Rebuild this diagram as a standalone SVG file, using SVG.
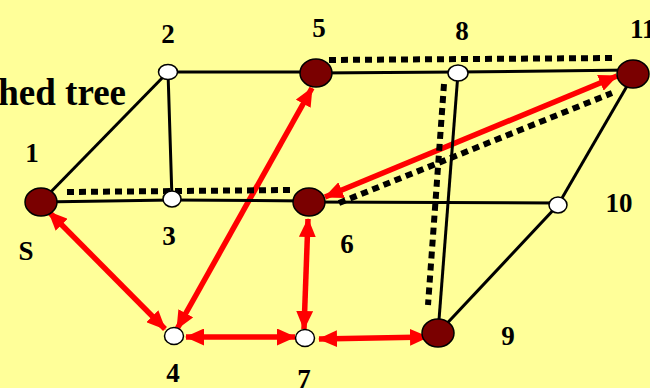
<svg xmlns="http://www.w3.org/2000/svg" width="650" height="388" viewBox="0 0 650 388">
<style>
.edge{stroke:#000;stroke-width:3;fill:none}
.dot{stroke:#000;stroke-width:6;stroke-dasharray:7 5;fill:none}
.arr{stroke:#FF0000;stroke-width:5.5;fill:none;marker-start:url(#ah);marker-end:url(#ah)}
.big{fill:#7A0000;stroke:#000;stroke-width:1.5}
.small{fill:#fff;stroke:#000;stroke-width:1.5}
text{font-family:"Liberation Serif","Times New Roman",serif;font-weight:bold;font-size:27px;fill:#000}
</style>
<defs>
<marker id="ah" markerUnits="userSpaceOnUse" markerWidth="19" markerHeight="17" viewBox="0 0 19 17" refX="18" refY="8.5" orient="auto-start-reverse">
<path d="M0,0 L19,8.5 L0,17 z" fill="#FF0000"/>
</marker>
</defs>
<rect width="650" height="388" fill="#FFFF99"/>
<text x="126" y="105" text-anchor="end" style="font-size:37px">hed tree</text>
<g id="connectors">
<g id="red">
<line class="arr" x1="49" y1="212" x2="165" y2="329"/>
<line class="arr" x1="312" y1="88" x2="177" y2="329"/>
<line class="arr" x1="308" y1="219" x2="304" y2="329"/>
<line class="arr" x1="186" y1="337" x2="295" y2="337"/>
<line class="arr" x1="319" y1="339" x2="428" y2="337"/>
<line class="arr" x1="617" y1="76" x2="325" y2="197"/>
</g>
<g id="black">
<line class="edge" x1="41" y1="202" x2="168" y2="72"/>
<line class="edge" x1="168" y1="72" x2="316" y2="72"/>
<line class="edge" x1="168" y1="72" x2="172" y2="199"/>
<line class="edge" x1="316" y1="73" x2="458" y2="72"/>
<line class="edge" x1="458" y1="72" x2="632" y2="70"/>
<line class="edge" x1="41" y1="202" x2="172" y2="200"/>
<line class="edge" x1="172" y1="200" x2="309" y2="201"/>
<line class="edge" x1="309" y1="202" x2="558" y2="203"/>
<line class="edge" x1="458" y1="73" x2="438" y2="333"/>
<line class="edge" x1="558" y1="205" x2="634" y2="74"/>
<line class="edge" x1="558" y1="205" x2="438" y2="333"/>
</g>
<g id="dotted">
<line class="dot" x1="67" y1="192" x2="291" y2="190"/>
<line class="dot" x1="329" y1="60" x2="613" y2="58"/>
<line class="dot" x1="339" y1="203" x2="612" y2="93"/>
<line class="dot" x1="444" y1="84" x2="428" y2="305"/>
</g>
</g>
<g id="n1"><ellipse class="big" cx="41" cy="202" rx="16" ry="14"/><text x="32" y="162" text-anchor="middle">1</text><text x="26" y="260" text-anchor="middle">S</text></g>
<g id="n2"><ellipse class="small" cx="168" cy="72" rx="9.5" ry="7.5"/><text x="168" y="43" text-anchor="middle">2</text></g>
<g id="n3"><ellipse class="small" cx="172" cy="199" rx="9" ry="8"/><text x="169" y="245" text-anchor="middle">3</text></g>
<g id="n4"><ellipse class="small" cx="174" cy="336" rx="9.5" ry="8.5"/><text x="173" y="382" text-anchor="middle">4</text></g>
<g id="n5"><ellipse class="big" cx="316" cy="73" rx="16" ry="14"/><text x="319" y="37" text-anchor="middle">5</text></g>
<g id="n6"><ellipse class="big" cx="309" cy="202" rx="16" ry="14"/><text x="347" y="253" text-anchor="middle">6</text></g>
<g id="n7"><ellipse class="small" cx="305" cy="338" rx="9.5" ry="8.5"/><text x="304" y="388" text-anchor="middle">7</text></g>
<g id="n8"><ellipse class="small" cx="458" cy="73" rx="10" ry="8"/><text x="462" y="40" text-anchor="middle">8</text></g>
<g id="n9"><ellipse class="big" cx="438" cy="333" rx="16" ry="14"/><text x="508" y="345" text-anchor="middle">9</text></g>
<g id="n10"><ellipse class="small" cx="558" cy="205" rx="9" ry="8"/><text x="619" y="212" text-anchor="middle">10</text></g>
<g id="n11"><ellipse class="big" cx="633" cy="74" rx="16" ry="14"/><text x="630" y="38">11</text></g>
</svg>
